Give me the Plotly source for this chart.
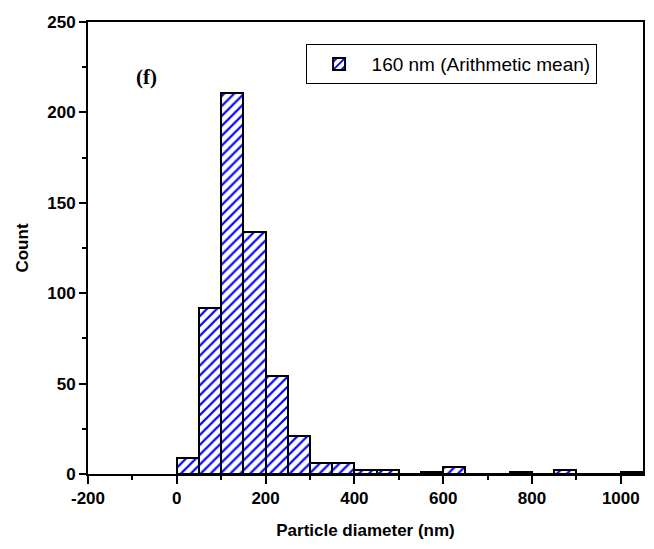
import plotly.graph_objects as go

bin_starts = [0, 50, 100, 150, 200, 250, 300, 350, 400, 450, 500, 550, 600,
              650, 700, 750, 800, 850, 900, 950, 1000]
counts = [9, 92, 211, 134, 54, 21, 6, 6, 2, 2, 0, 1, 4, 0, 0, 1, 0, 2, 0, 0, 1]
bin_width = 50
series_name = "160 nm (Arithmetic mean)"
x_ticks = [-200, 0, 200, 400, 600, 800, 1000]
x_tick_text = ["-200", "0", "200", "400", "600", "800", "1000"]
y_ticks = [0, 50, 100, 150, 200, 250]

centers = [s + bin_width / 2 for s in bin_starts]

fig = go.Figure()
fig.add_trace(go.Bar(
    x=centers, y=counts, width=[bin_width] * len(centers),
    name=series_name, showlegend=True,
    marker=dict(
        color="white",
        line=dict(color="black", width=2),
        pattern=dict(shape="/", fgcolor="#0000ff", bgcolor="white", fgopacity=1,
                     size=7, solidity=0.32, fillmode="overlay"),
    ),
))

font_tick = dict(family="Liberation Sans, Arial", size=17, color="black", weight="bold")
font_title = dict(family="Liberation Sans, Arial", size=17, color="black", weight="bold")
fig.update_layout(
    width=646, height=541,
    margin=dict(l=80, r=11, t=14, b=75, autoexpand=False),
    plot_bgcolor="white", paper_bgcolor="white",
    bargap=0,
    showlegend=True,
    legend=dict(x=0.392, y=0.951, xanchor="left", yanchor="top",
                bgcolor="white", bordercolor="black", borderwidth=1,
                font=dict(family="Liberation Sans, Arial", size=19, color="black"),
                itemwidth=55, tracegroupgap=0),
    xaxis=dict(range=[-200, 1050], tickvals=x_ticks, ticktext=x_tick_text,
               ticks="outside", ticklen=8,
               tickwidth=2, tickcolor="black", showline=True, linewidth=2,
               linecolor="black", mirror=True, showgrid=False, zeroline=False,
               tickfont=font_tick, automargin=False,
               minor=dict(dtick=100, tick0=0, ticks="outside", ticklen=4, tickwidth=2, tickcolor="black"),
               title=dict(text="Particle diameter (nm)", font=font_title, standoff=17)),
    yaxis=dict(range=[0, 250], tickvals=y_ticks, ticks="outside", ticklen=7,
               tickwidth=2, tickcolor="black", showline=True, linewidth=2,
               linecolor="black", mirror=True, showgrid=False, zeroline=False,
               tickfont=font_tick, automargin=False,
               minor=dict(dtick=25, tick0=0, ticks="outside", ticklen=4, tickwidth=2, tickcolor="black"),
               title=dict(text="Count", font=font_title, standoff=14)),
    annotations=[dict(text="(f)", x=0.083, y=0.878, xref="paper", yref="paper",
                      showarrow=False, xanchor="left", yanchor="middle",
                      font=dict(family="Liberation Serif, Times New Roman", size=21,
                                color="black", weight="bold"))],
)

fig.write_html("out.html")
